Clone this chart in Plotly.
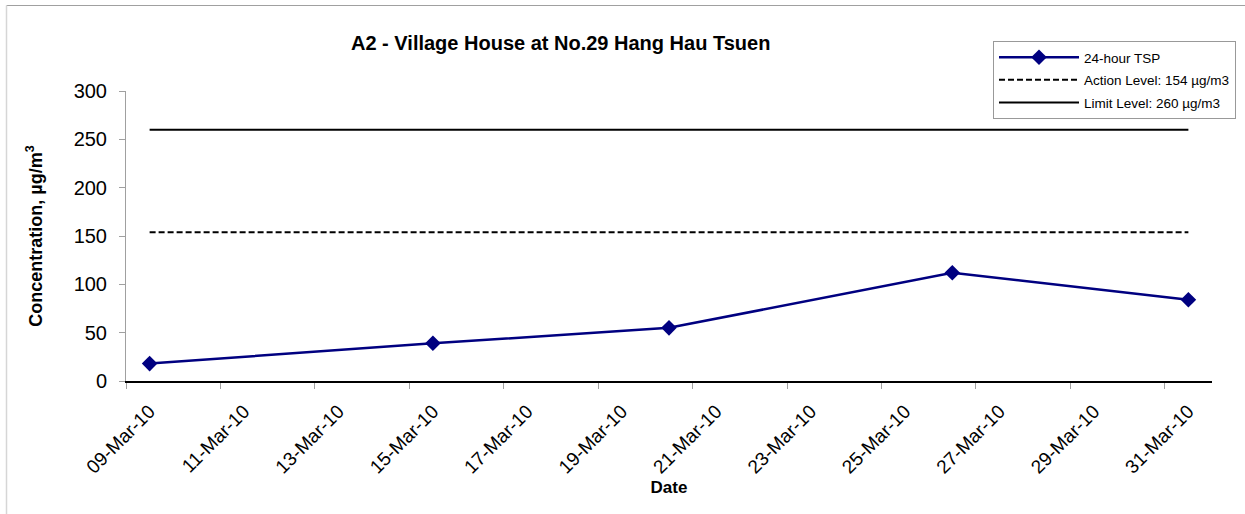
import pandas as pd
import plotly.graph_objects as go

# ---- data ----
dates = ["2010-03-09", "2010-03-15", "2010-03-20", "2010-03-26", "2010-03-31"]
tsp = [18, 39, 55, 112, 84]
action_level = 154
limit_level = 260
series_names = ["24-hour TSP", "Action Level: 154 µg/m3", "Limit Level: 260 µg/m3"]
title_text = "A2 - Village House at No.29 Hang Hau Tsuen"
y_title = "Concentration, µg/m<sup>3</sup>"
x_title = "Date"
x_start = "2010-03-09"
x_end = "2010-04-01"
y_ticks = [0, 50, 100, 150, 200, 250, 300]

# points are plotted at the middle of each day (Excel date axis)
xd = pd.to_datetime(dates) + pd.Timedelta(hours=12)
line_x = [xd[0], xd[-1]]

FONT = "Liberation Sans, Arial, sans-serif"
DAY2 = 2 * 24 * 3600 * 1000

fig = go.Figure()
fig.add_trace(go.Scatter(
    x=xd, y=tsp, mode="lines+markers", name=series_names[0],
    line=dict(color="#000080", width=2.5),
    marker=dict(symbol="diamond", size=12, color="#000080"),
    legendgroup="a",
))
fig.add_trace(go.Scatter(
    x=line_x, y=[action_level] * 2, mode="lines", name=series_names[1],
    line=dict(color="black", width=2, dash="6px,3px"),
    legendgroup="b",
))
fig.add_trace(go.Scatter(
    x=line_x, y=[limit_level] * 2, mode="lines", name=series_names[2],
    line=dict(color="black", width=2),
    legendgroup="c",
))

L, R, T, B = 126, 33, 91, 133
W, H = 1245, 514
pw = W - L - R
ph = H - T - B

def px_x(px):
    return (px - L) / pw

def px_y(py):
    return (H - B - py) / ph

fig.update_layout(
    width=W, height=H,
    margin=dict(l=L, r=R, t=T, b=B, pad=0, autoexpand=False),
    paper_bgcolor="white", plot_bgcolor="white",
    font=dict(family=FONT, color="black"),
    showlegend=True,
    legend=dict(
        xref="container", yref="container",
        x=993 / W, y=1 - 41 / H, xanchor="left", yanchor="top",
        bordercolor="#999999", borderwidth=1, bgcolor="white",
        font=dict(size=13.5, family=FONT),
        traceorder="grouped", tracegroupgap=2,
        itemwidth=80,
    ),
    xaxis=dict(
        type="date",
        range=[x_start, x_end],
        tick0=pd.Timestamp(x_start) + pd.Timedelta(hours=12),
        dtick=DAY2,
        tickformat="%d-%b-%y",
        tickangle=-45,
        tickfont=dict(size=19, family=FONT),
        ticks="", ticklen=0,
        ticklabelstandoff=10,
        ticklabelshift=0,
        minor=dict(tick0=x_start, dtick=DAY2, ticks="outside", ticklen=6,
                   tickcolor="#a0a0a0", tickwidth=1, showgrid=False),
        showline=True, linecolor="black", linewidth=1.5,
        showgrid=False, zeroline=False, automargin=False,
        title=dict(text=x_title, font=dict(size=17, family=FONT, weight="bold"), standoff=0),
        fixedrange=True,
    ),
    yaxis=dict(
        range=[0, 300],
        tickvals=y_ticks,
        tickfont=dict(size=20, family=FONT),
        ticks="outside", ticklen=6, tickcolor="#a0a0a0", tickwidth=1,
        ticklabelstandoff=8,
        showline=True, linecolor="#a0a0a0", linewidth=1,
        showgrid=False, zeroline=False, automargin=False,
        title=dict(text=y_title, font=dict(size=18, family=FONT, weight="bold"), standoff=26),
        fixedrange=True,
    ),
    annotations=[
        dict(text="<b>" + title_text + "</b>", xref="paper", yref="paper",
             x=px_x(560), y=px_y(43), xanchor="center", yanchor="middle",
             showarrow=False, font=dict(size=20, family=FONT)),
    ],
    shapes=[
        dict(type="line", xref="paper", yref="paper",
             x0=px_x(6.5), x1=px_x(1300), y0=px_y(5.5), y1=px_y(5.5),
             line=dict(color="#a0a0a0", width=1)),
        dict(type="line", xref="paper", yref="paper",
             x0=px_x(6.5), x1=px_x(6.5), y0=px_y(5.5), y1=px_y(600),
             line=dict(color="#d6d6d6", width=1.5)),
    ],
)

fig.write_html(
    "out.html",
    config={"displayModeBar": False},
    post_script="document.body.style.margin='0';document.body.style.overflow='hidden';",
)
